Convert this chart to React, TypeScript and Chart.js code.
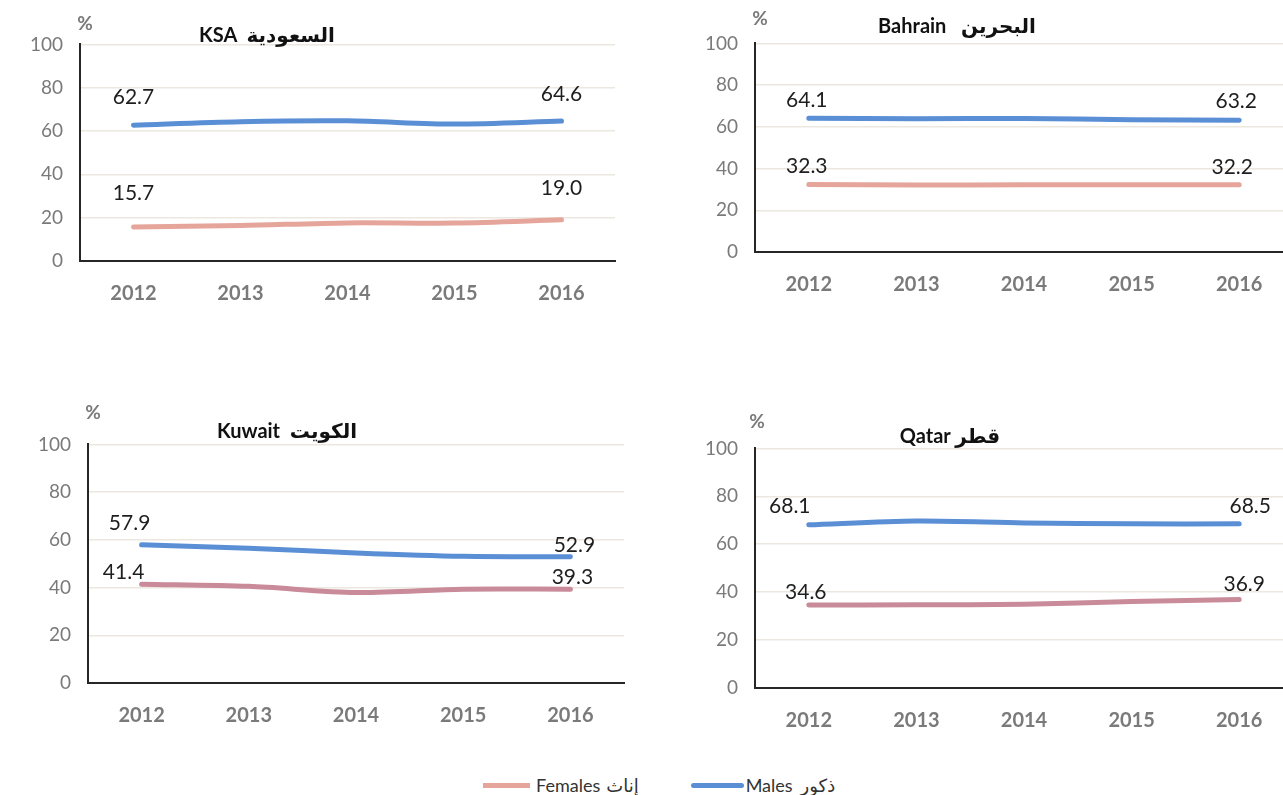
import React, { useEffect, useRef } from "react";
import { Chart, registerables } from "chart.js";

Chart.register(...registerables);

const years = ["2012", "2013", "2014", "2015", "2016"];
const yTicks = [0, 20, 40, 60, 80, 100];

const ksaMales = [62.7, 64.3, 64.7, 63.2, 64.6];
const ksaFemales = [15.7, 16.4, 17.6, 17.5, 19.0];
const bahrainMales = [64.1, 63.9, 64.0, 63.4, 63.2];
const bahrainFemales = [32.3, 32.1, 32.2, 32.2, 32.2];
const kuwaitMales = [57.9, 56.5, 54.5, 53.1, 52.9];
const kuwaitFemales = [41.4, 40.5, 37.9, 39.3, 39.3];
const qatarMales = [68.1, 69.7, 68.9, 68.5, 68.5];
const qatarFemales = [34.6, 34.7, 35.0, 36.1, 36.9];

const maleLabel = "Males ذكور";
const femaleLabel = "Females إناث";

const BLUE = "#5a8fd6";
const SALMON = "#e6a59b";
const MAUVE = "#c98a99";
const FONT = "Lato, 'Open Sans', 'DejaVu Sans', sans-serif";

type Off = [number, number][];

interface PanelProps {
  left: number;
  top: number;
  width: number;
  height: number;
  males: number[];
  females: number[];
  femaleColor: string;
  offsets: Off[];
}

function Panel(p: PanelProps) {
  const ref = useRef<HTMLCanvasElement | null>(null);
  useEffect(() => {
    if (!ref.current) return;
    const endLabels = {
      id: "endLabels",
      afterDatasetsDraw(chart: any) {
        const ctx = chart.ctx;
        ctx.save();
        ctx.font = `21px ${FONT}`;
        ctx.fillStyle = "#1e1e1e";
        ctx.textAlign = "center";
        ctx.textBaseline = "middle";
        chart.data.datasets.forEach((ds: any, i: number) => {
          const meta = chart.getDatasetMeta(i);
          const idxs = [0, ds.data.length - 1];
          idxs.forEach((idx, k) => {
            const pt = meta.data[idx];
            const [dx, dy] = p.offsets[i][k];
            ctx.fillText(Number(ds.data[idx]).toFixed(1), pt.x + dx, pt.y + dy);
          });
        });
        ctx.restore();
      },
    };
    const chart = new Chart(ref.current, {
      type: "line",
      data: {
        labels: years,
        datasets: [
          {
            label: maleLabel,
            data: p.males,
            borderColor: BLUE,
            borderWidth: 5,
            borderCapStyle: "round",
            pointRadius: 0,
            tension: 0.3,
          },
          {
            label: femaleLabel,
            data: p.females,
            borderColor: p.femaleColor,
            borderWidth: 5,
            borderCapStyle: "round",
            pointRadius: 0,
            tension: 0.3,
          },
        ],
      },
      options: {
        animation: false,
        responsive: false,
        maintainAspectRatio: false,
        layout: { padding: { top: 20, right: 20, bottom: 0, left: 0 } },
        plugins: {
          legend: { display: false },
          title: { display: false },
          tooltip: { enabled: false },
        },
        scales: {
          x: {
            type: "category",
            offset: true,
            grid: { display: false, drawTicks: false },
            border: { display: true, color: "#262626", width: 2 },
            ticks: {
              font: { family: FONT, size: 20, weight: "bold" },
              color: "#7a7a7a",
              padding: 21,
            },
            afterFit: (s: any) => {
              s.height = 50;
            },
          },
          y: {
            min: 0,
            max: 100,
            afterBuildTicks: (s: any) => {
              s.ticks = yTicks.map((v) => ({ value: v }));
            },
            grid: { color: "#ece8df", lineWidth: 1.5, drawTicks: false },
            border: { display: true, color: "#262626", width: 2 },
            ticks: {
              font: { family: FONT, size: 19 },
              color: "#7a7a7a",
              padding: 17,
            },
            afterFit: (s: any) => {
              s.width = 70;
            },
          },
        },
      },
      plugins: [endLabels],
    } as any);
    return () => chart.destroy();
  }, []);
  return (
    <canvas
      ref={ref}
      width={p.width}
      height={p.height}
      style={{ position: "absolute", left: p.left, top: p.top, width: p.width, height: p.height }}
    />
  );
}

function Title({ x, y, text }: { x: number; y: number; text: string }) {
  return (
    <div
      style={{
        position: "absolute",
        left: x,
        top: y,
        transform: "translate(-50%, -50%)",
        font: `bold 20px ${FONT}`,
        color: "#111",
        whiteSpace: "pre",
      }}
    >
      {text}
    </div>
  );
}

function Pct({ x, y }: { x: number; y: number }) {
  return (
    <div
      style={{
        position: "absolute",
        left: x,
        top: y,
        transform: "translate(-50%, -50%)",
        font: `bold 19px ${FONT}`,
        color: "#7a7a7a",
      }}
    >
      %
    </div>
  );
}

export default function App() {
  return (
    <div
      style={{
        position: "fixed",
        left: 0,
        top: 0,
        width: 1283,
        height: 795,
        overflow: "hidden",
        background: "#fff",
      }}
    >
      <Panel
        left={10}
        top={16}
        width={625}
        height={295}
        males={ksaMales}
        females={ksaFemales}
        femaleColor={SALMON}
        offsets={[
          [[0, -28], [0, -27]],
          [[0, -34], [0, -32]],
        ]}
      />
      <Panel
        left={685}
        top={15}
        width={628}
        height={287}
        males={bahrainMales}
        females={bahrainFemales}
        femaleColor={SALMON}
        offsets={[
          [[-2, -18], [-3, -19]],
          [[-2, -18], [-7, -18]],
        ]}
      />
      <Panel
        left={18}
        top={416}
        width={626}
        height={317}
        males={kuwaitMales}
        females={kuwaitFemales}
        femaleColor={MAUVE}
        offsets={[
          [[-12, -22], [4, -12]],
          [[-18, -12], [2, -12]],
        ]}
      />
      <Panel
        left={685}
        top={420}
        width={628}
        height={318}
        males={qatarMales}
        females={qatarFemales}
        femaleColor={MAUVE}
        offsets={[
          [[-19, -19], [11, -18]],
          [[-3, -13], [5, -15]],
        ]}
      />
      <Title x={267} y={34} text={"KSA  السعودية"} />
      <Title x={957} y={25} text={"Bahrain   البحرين"} />
      <Title x={287} y={430} text={"Kuwait  الكويت"} />
      <Title x={950} y={435} text={"Qatar قطر"} />
      <Pct x={85} y={22} />
      <Pct x={760} y={17} />
      <Pct x={93} y={411} />
      <Pct x={757} y={420} />
      <div
        style={{
          position: "absolute",
          left: 483,
          top: 773,
          display: "flex",
          alignItems: "center",
          font: `18px ${FONT}`,
          color: "#333",
          direction: "ltr",
          height: 24,
        }}
      >
        <span style={{ display: "inline-block", width: 47, height: 5, background: SALMON, marginRight: 6 }} />
        <span>Females</span>
        <span style={{ marginLeft: 6 }}>إناث</span>
        <span style={{ display: "inline-block", width: 53, height: 5, background: BLUE, marginLeft: 52, borderRadius: 3 }} />
        <span style={{ marginLeft: 2 }}>Males</span>
        <span style={{ marginLeft: 8 }}>ذكور</span>
      </div>
    </div>
  );
}
